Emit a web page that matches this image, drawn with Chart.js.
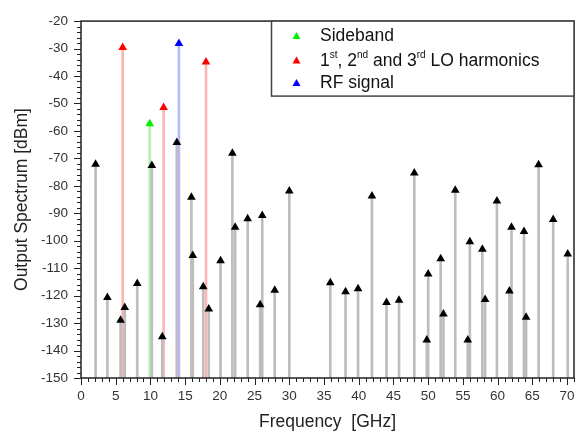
<!DOCTYPE html>
<html>
<head>
<meta charset="utf-8">
<script src="https://cdn.jsdelivr.net/npm/chart.js@4.4.0/dist/chart.umd.min.js"></script>
<style>
  html, body { margin: 0; padding: 0; background: #fff; }
  #wrap { width: 584px; height: 434px; }
</style>
</head>
<body>
<div id="wrap"><canvas id="spectrum" width="584" height="434"></canvas></div>
<script>
// mixing products (black markers)
const mixFreq = [2.1, 3.8, 5.7, 6.3, 8.1, 10.2, 11.7, 13.8, 15.9, 16.1, 17.6, 18.4, 20.1, 21.8, 22.2,
                 24.0, 25.8, 26.1, 27.9, 30.0, 35.9, 38.1, 39.9, 41.9, 44.0, 45.8, 48.0, 49.8, 50.0,
                 51.8, 52.2, 53.9, 55.7, 56.0, 57.8, 58.2, 59.9, 61.7, 62.0, 63.8, 64.1, 65.9, 68.0, 70.1];
const mixLevel = [-72.1, -120.7, -129.0, -124.3, -115.6, -72.6, -135.0, -64.2, -84.2, -105.4, -116.8, -124.9, -107.3, -68.1, -95.1,
                  -92.0, -123.3, -90.8, -118.0, -81.9, -115.3, -118.6, -117.5, -83.7, -122.5, -121.7, -75.3, -136.2, -112.1,
                  -106.6, -126.7, -81.6, -136.2, -100.4, -103.1, -121.4, -85.5, -118.3, -95.1, -96.6, -127.9, -72.3, -92.3, -104.8];

const sidebandFreq = [9.9];
const sidebandLevel = [-57.4];

const loFreq = [6.0, 11.9, 18.0];
const loLevel = [-29.6, -51.5, -34.9];

const rfFreq = [14.1];
const rfLevel = [-28.2];

const xTickLabels = [0, 5, 10, 15, 20, 25, 30, 35, 40, 45, 50, 55, 60, 65, 70];
const yTickLabels = [-150, -140, -130, -120, -110, -100, -90, -80, -70, -60, -50, -40, -30, -20];

const FLOOR = -150;
const FONT = "'Liberation Sans', Arial, sans-serif";

function stems(freq, level) {
  return freq.map((f, i) => ({ x: f, y: [FLOOR, level[i]] }));
}
function points(freq, level) {
  return freq.map((f, i) => ({ x: f, y: level[i] }));
}

function stemSet(freq, level, color) {
  return {
    type: 'bar',
    data: stems(freq, level),
    backgroundColor: color,
    borderWidth: 0,
    barThickness: 2,
    grouped: false,
    order: 2
  };
}
function markerSet(label, freq, level, color) {
  return {
    type: 'scatter',
    label: label,
    data: points(freq, level),
    pointStyle: 'triangle',
    pointRadius: 5,
    pointHoverRadius: 5,
    backgroundColor: color,
    borderColor: color,
    borderWidth: 0,
    order: 1
  };
}

// minor/major ticks, plot frame and the legend box
const decor = {
  id: 'decor',
  afterDraw(chart) {
    const { ctx, chartArea: a, scales: { x, y } } = chart;
    ctx.save();
    ctx.strokeStyle = '#222';
    ctx.lineWidth = 1;
    ctx.beginPath();
    x.ticks.forEach(t => {
      if (!Number.isInteger(t.value)) return;
      const px = Math.round(x.getPixelForValue(t.value)) + 0.5;
      const len = xTickLabels.includes(t.value) ? 7 : 4;
      ctx.moveTo(px, a.bottom);
      ctx.lineTo(px, a.bottom + len);
    });
    y.ticks.forEach(t => {
      const py = Math.round(y.getPixelForValue(t.value)) + 0.5;
      const len = yTickLabels.includes(t.value) ? 7 : 4;
      ctx.moveTo(a.left, py);
      ctx.lineTo(a.left - len, py);
    });
    ctx.stroke();

    ctx.lineWidth = 1.5;
    ctx.strokeRect(a.left, a.top, a.right - a.left, a.bottom - a.top);

    // legend
    const lx = a.right - 302.5, ly = a.top, lw = 302.5, lh = 75;
    ctx.fillStyle = '#fff';
    ctx.fillRect(lx, ly, lw, lh);
    ctx.strokeStyle = '#444';
    ctx.lineWidth = 1.5;
    ctx.strokeRect(lx, ly, lw, lh);

    const rows = [
      { color: '#00ee00', y: ly + 15.5, parts: [['Sideband', false]] },
      { color: '#ff0000', y: ly + 40, parts: [['1', false], ['st', true], [', 2', false], ['nd', true], [' and 3', false], ['rd', true], [' LO harmonics', false]] },
      { color: '#0000ff', y: ly + 62.5, parts: [['RF signal', false]] }
    ];
    ctx.textBaseline = 'middle';
    ctx.textAlign = 'left';
    rows.forEach(r => {
      const mx = lx + 25, my = r.y;
      ctx.fillStyle = r.color;
      ctx.beginPath();
      ctx.moveTo(mx, my - 4.5);
      ctx.lineTo(mx + 4, my + 2.5);
      ctx.lineTo(mx - 4, my + 2.5);
      ctx.closePath();
      ctx.fill();

      let tx = lx + 48.5;
      ctx.fillStyle = '#111';
      r.parts.forEach(([txt, sup]) => {
        ctx.font = (sup ? '10px ' : '17.5px ') + FONT;
        ctx.fillText(txt, tx, sup ? my - 6 : my);
        tx += ctx.measureText(txt).width;
      });
    });
    ctx.restore();
  }
};

Chart.defaults.font.family = FONT;
Chart.defaults.color = '#222';

new Chart(document.getElementById('spectrum'), {
  type: 'scatter',
  data: {
    datasets: [
      stemSet(mixFreq, mixLevel, '#bdbdbd'),
      stemSet(sidebandFreq, sidebandLevel, '#b4efb4'),
      stemSet(loFreq, loLevel, '#ffb4b4'),
      stemSet(rfFreq, rfLevel, '#b8b8ff'),
      markerSet('Mixing products', mixFreq, mixLevel, '#000'),
      markerSet('Sideband', sidebandFreq, sidebandLevel, '#00ee00'),
      markerSet('1st, 2nd and 3rd LO harmonics', loFreq, loLevel, '#ff0000'),
      markerSet('RF signal', rfFreq, rfLevel, '#0000ff')
    ]
  },
  options: {
    responsive: false,
    devicePixelRatio: 1,
    animation: false,
    layout: { padding: { top: 16, right: 8, left: 0, bottom: 0 } },
    plugins: {
      legend: { display: false },
      tooltip: { enabled: false }
    },
    scales: {
      x: {
        type: 'linear',
        min: 0,
        max: 71,
        offset: false,
        grid: { display: false, drawTicks: false, offset: false },
        border: { display: false },
        ticks: {
          stepSize: 1,
          autoSkip: false,
          maxRotation: 0,
          padding: 10,
          font: { size: 13.5 },
          color: '#333',
          callback: v => xTickLabels.includes(v) ? String(v) : ''
        },
        title: {
          display: true,
          text: 'Frequency  [GHz]',
          font: { size: 17.5 },
          color: '#222',
          padding: { top: 0, bottom: 1 }
        },
        afterFit: s => { s.height = 56; }
      },
      y: {
        type: 'linear',
        min: -150,
        max: -20,
        grid: { display: false, drawTicks: false },
        border: { display: false },
        ticks: {
          stepSize: 2,
          autoSkip: false,
          padding: 13,
          font: { size: 13.5 },
          color: '#333',
          callback: v => yTickLabels.includes(v) ? String(v) : ''
        },
        title: {
          display: true,
          text: 'Output Spectrum [dBm]',
          font: { size: 17.5 },
          color: '#222',
          padding: { top: 12, bottom: 0 }
        },
        afterFit: s => { s.width = 81; }
      }
    }
  },
  plugins: [decor]
});
</script>
</body>
</html>
